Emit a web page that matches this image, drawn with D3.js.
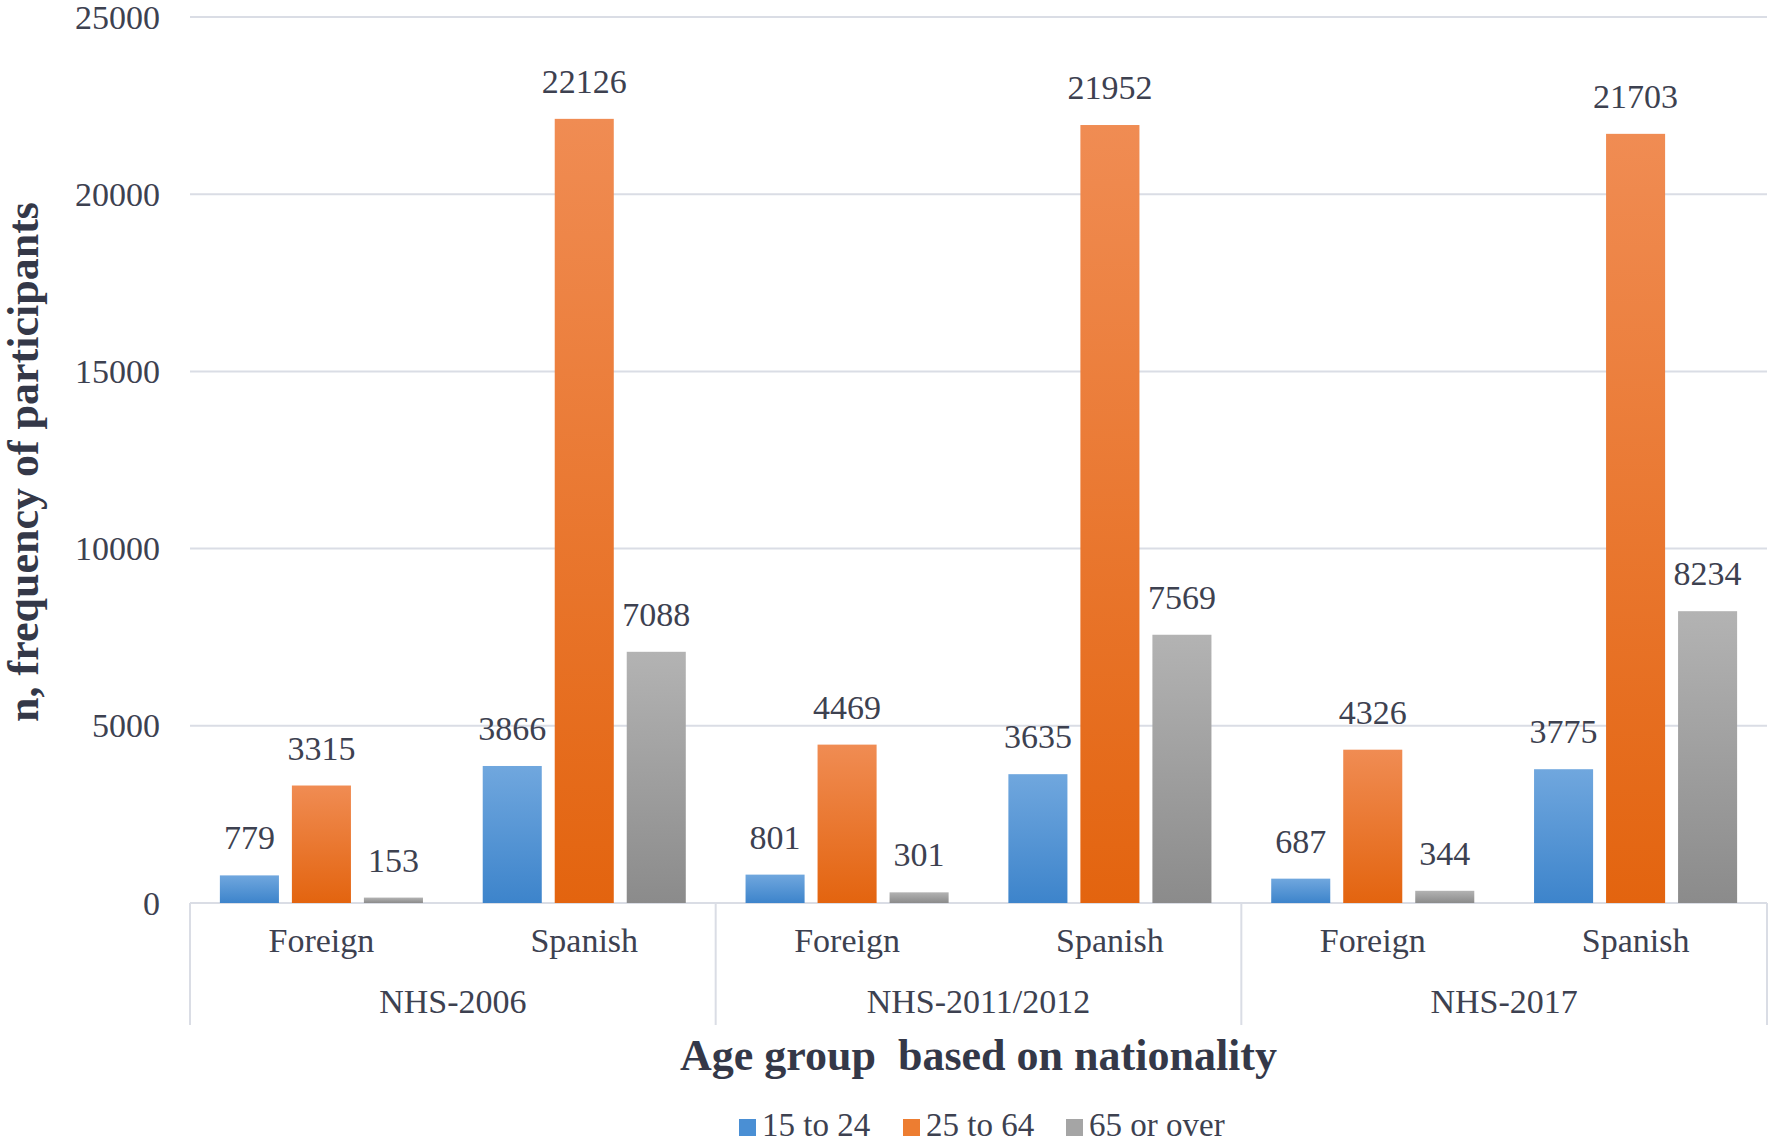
<!DOCTYPE html>
<html>
<head>
<meta charset="utf-8">
<script src="https://cdn.jsdelivr.net/npm/d3@7"></script>
<style>
  html, body { margin: 0; padding: 0; background: #ffffff; }
  svg { display: block; }
  text { font-family: "Liberation Serif", "Times New Roman", serif; }
</style>
</head>
<body>
<svg id="chart" width="1770" height="1145"></svg>
<script>
// ---- data ----
const groups = ["NHS-2006", "NHS-2011/2012", "NHS-2017"];
const nationalities = ["Foreign", "Spanish"];
const seriesNames = ["15 to 24", "25 to 64", "65 or over"];
// values per category in order: 2006 Foreign, 2006 Spanish, 2011 Foreign, 2011 Spanish, 2017 Foreign, 2017 Spanish
const age15to24 = [779, 3866, 801, 3635, 687, 3775];
const age25to64 = [3315, 22126, 4469, 21952, 4326, 21703];
const age65over = [153, 7088, 301, 7569, 344, 8234];
const yTicks = [0, 5000, 10000, 15000, 20000, 25000];

(function () {
const seriesValues = [age15to24, age25to64, age65over];
const seriesColors = [
  { top: "#70a7de", bottom: "#3d84cb", sw: "#4a8fd4" },
  { top: "#f08c53", bottom: "#e3640f", sw: "#ed7d31" },
  { top: "#b3b3b3", bottom: "#8b8b8b", sw: "#a5a5a5" }
];

const categories = [];
groups.forEach(g => nationalities.forEach(n => categories.push({ group: g, nat: n, key: g + "|" + n })));

const svg = d3.select("#chart");
const textColor = "#3d4150";
const gridColor = "#dadde5";

const plotLeft = 190, plotRight = 1767, plotTop = 17, zeroY = 903;

const y = d3.scaleLinear().domain([0, 25000]).range([zeroY, plotTop]);
const x0 = d3.scaleBand().domain(categories.map(c => c.key)).range([plotLeft, plotRight]).padding(0);
const x1 = d3.scaleBand().domain(seriesNames).range([0, x0.bandwidth()]).paddingInner(0.18).paddingOuter(0.415);
const xg = d3.scaleBand().domain(groups).range([plotLeft, plotRight]).padding(0);

// gradients
const defs = svg.append("defs");
seriesColors.forEach((c, i) => {
  const g = defs.append("linearGradient").attr("id", "grad" + i)
    .attr("x1", 0).attr("y1", 0).attr("x2", 0).attr("y2", 1);
  g.append("stop").attr("offset", "0%").attr("stop-color", c.top);
  g.append("stop").attr("offset", "100%").attr("stop-color", c.bottom);
});

// gridlines
svg.append("g").selectAll("line").data(yTicks).join("line")
  .attr("x1", plotLeft).attr("x2", plotRight)
  .attr("y1", d => y(d)).attr("y2", d => y(d))
  .attr("stroke", gridColor).attr("stroke-width", 2);

// y tick labels
svg.append("g").selectAll("text").data(yTicks).join("text")
  .attr("x", 160).attr("y", d => y(d))
  .attr("text-anchor", "end").attr("dominant-baseline", "central")
  .attr("font-size", 34).attr("fill", textColor)
  .text(d => d);

// category separators
const sepX = groups.map(g => xg(g)).concat([plotRight]);
svg.append("g").selectAll("line").data(sepX).join("line")
  .attr("x1", d => d).attr("x2", d => d)
  .attr("y1", zeroY).attr("y2", 1025)
  .attr("stroke", gridColor).attr("stroke-width", 2);

// bars
const barG = svg.append("g");
seriesNames.forEach((s, si) => {
  barG.append("g").selectAll("rect").data(categories).join("rect")
    .attr("x", c => x0(c.key) + x1(s))
    .attr("width", x1.bandwidth())
    .attr("y", (c, ci) => y(seriesValues[si][ci]))
    .attr("height", (c, ci) => zeroY - y(seriesValues[si][ci]))
    .attr("fill", "url(#grad" + si + ")");
  barG.append("g").selectAll("text").data(categories).join("text")
    .attr("x", c => x0(c.key) + x1(s) + x1.bandwidth() / 2)
    .attr("y", (c, ci) => y(seriesValues[si][ci]) - 26)
    .attr("text-anchor", "middle")
    .attr("font-size", 34).attr("fill", textColor)
    .text((c, ci) => seriesValues[si][ci]);
});

// category labels
svg.append("g").selectAll("text").data(categories).join("text")
  .attr("x", c => x0(c.key) + x0.bandwidth() / 2)
  .attr("y", 952)
  .attr("text-anchor", "middle").attr("font-size", 34).attr("fill", textColor)
  .text(c => c.nat);

svg.append("g").selectAll("text").data(groups).join("text")
  .attr("x", g => xg(g) + xg.bandwidth() / 2)
  .attr("y", 1013)
  .attr("text-anchor", "middle").attr("font-size", 34).attr("fill", textColor)
  .text(g => g);

// axis titles
svg.append("text")
  .attr("x", (plotLeft + plotRight) / 2).attr("y", 1070)
  .attr("text-anchor", "middle").attr("font-size", 44).attr("font-weight", "bold")
  .attr("fill", "#343848")
  .attr("xml:space", "preserve")
  .text("Age group  based on nationality");

svg.append("text")
  .attr("transform", "translate(38,462) rotate(-90)")
  .attr("text-anchor", "middle").attr("font-size", 44).attr("font-weight", "bold")
  .attr("fill", "#343848")
  .text("n, frequency of participants");

// legend
const legendX = [739, 903, 1066];
const lg = svg.append("g");
seriesNames.forEach((s, i) => {
  lg.append("rect").attr("x", legendX[i]).attr("y", 1119).attr("width", 17).attr("height", 17)
    .attr("fill", seriesColors[i].sw);
  lg.append("text").attr("x", legendX[i] + 23).attr("y", 1136)
    .attr("font-size", 33).attr("fill", textColor).text(s);
});
})();
</script>
</body>
</html>
